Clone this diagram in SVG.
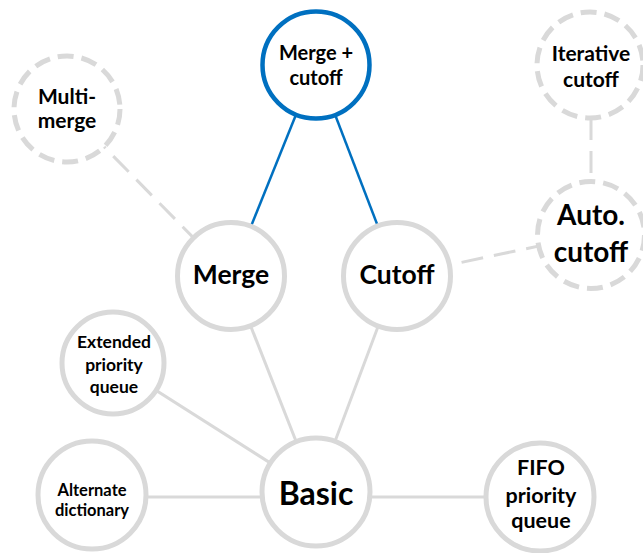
<svg xmlns="http://www.w3.org/2000/svg" width="643" height="553" viewBox="0 0 643 553">
<style>
.n{fill:#fff;stroke:#d9d9d9;stroke-width:5}
.d{stroke-dasharray:16 8}
.b{stroke:#0070c0;stroke-width:4.5}
.l{stroke:#d9d9d9;stroke-width:3;fill:none}
.ld{stroke-dasharray:22 11}
.bl{stroke:#0070c0;stroke-width:2.5;fill:none}
text{font-family:Lato,"Open Sans","Liberation Sans",sans-serif;font-weight:bold;fill:#000;text-anchor:middle}
</style>
<rect width="643" height="553" fill="#fff"/>
<g id="connectors">
<line class="bl" x1="316" y1="65" x2="231" y2="276"/>
<line class="bl" x1="316" y1="65" x2="397" y2="276"/>
<line class="l ld" x1="67" y1="109" x2="231" y2="276"/>
<line class="l ld" x1="397" y1="276" x2="591" y2="235"/>
<line class="l ld" x1="591" y1="118" x2="591" y2="182"/>
<line class="l" x1="231" y1="276" x2="316" y2="492"/>
<line class="l" x1="397" y1="276" x2="316" y2="492"/>
<line class="l" x1="113" y1="363" x2="316" y2="492"/>
<line class="l" x1="92" y1="497" x2="540" y2="497"/>
</g>
<g id="merge-cutoff"><circle class="n b" cx="316" cy="65" r="53.5"/><text font-size="20"><tspan x="316" y="60">Merge +</tspan><tspan x="316" y="85">cutoff</tspan></text></g>
<g id="multi-merge"><circle class="n d" cx="67" cy="109" r="53"/><text font-size="21"><tspan x="67" y="104">Multi-</tspan><tspan x="67" y="128">merge</tspan></text></g>
<g id="iterative-cutoff"><circle class="n d" cx="590" cy="65" r="53"/><text font-size="21"><tspan x="591" y="61">Iterative</tspan><tspan x="591" y="87">cutoff</tspan></text></g>
<g id="auto-cutoff"><circle class="n d" cx="591" cy="235" r="53.5"/><text font-size="28"><tspan x="591" y="225">Auto.</tspan><tspan x="591" y="262">cutoff</tspan></text></g>
<g id="merge"><circle class="n" cx="231" cy="276" r="53.5"/><text x="231" y="284" font-size="26.5">Merge</text></g>
<g id="cutoff"><circle class="n" cx="397" cy="276" r="53.5"/><text x="397" y="284" font-size="26.5">Cutoff</text></g>
<g id="extended-priority-queue"><circle class="n" cx="113" cy="363" r="51"/><text font-size="17.5"><tspan x="114" y="348">Extended</tspan><tspan x="114" y="371">priority</tspan><tspan x="114" y="393">queue</tspan></text></g>
<g id="basic"><circle class="n" cx="316" cy="492" r="54"/><text x="316" y="505" font-size="32">Basic</text></g>
<g id="alternate-dictionary"><circle class="n" cx="92" cy="495" r="54"/><text font-size="16.5"><tspan x="92" y="496">Alternate</tspan><tspan x="92" y="516">dictionary</tspan></text></g>
<g id="fifo-priority-queue"><circle class="n" cx="540" cy="497" r="54"/><text font-size="21.5"><tspan x="541" y="475">FIFO</tspan><tspan x="541" y="503">priority</tspan><tspan x="541" y="528">queue</tspan></text></g>
</svg>
